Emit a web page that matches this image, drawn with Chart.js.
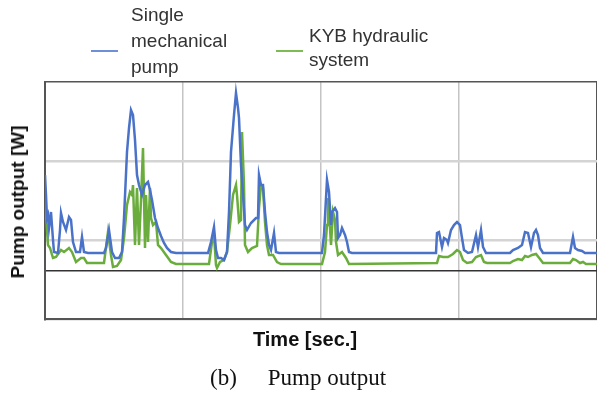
<!DOCTYPE html>
<html>
<head>
<meta charset="utf-8">
<script src="https://cdn.jsdelivr.net/npm/chart.js@4.4.1/dist/chart.umd.min.js"></script>
<style>
    body { margin: 0; background: #fff; }
    #wrap { position: relative; width: 597px; height: 394px; overflow: hidden; font-family: "Liberation Sans", Arial, sans-serif; }
    #wrap canvas { position: absolute; left: 0; top: 0; }
    .leg { position: absolute; font-size: 19px; line-height: 26px; color: #333; white-space: nowrap; }
    .swatch { position: absolute; height: 2px; width: 27px; }
    #ytitle { position: absolute; left: 18px; top: 202px; transform: translate(-50%, -50%) rotate(-90deg); font-weight: bold; font-size: 19px; color: #111; white-space: nowrap; }
    #xtitle { position: absolute; left: 305px; top: 339px; transform: translate(-50%, -50%); font-weight: bold; font-size: 20px; color: #111; white-space: nowrap; }
    #caption { position: absolute; left: 210px; top: 365px; font-family: "Liberation Serif", "Times New Roman", serif; font-size: 23px; color: #111; white-space: nowrap; }
</style>
</head>
<body>
<div id="wrap">
    <canvas id="pumpChart" width="597" height="394"></canvas>
    <div class="swatch" style="left:91px; top:50px; background:#6f8fd6;"></div>
    <div class="leg" style="left:131px; top:2px;">Single<br>mechanical<br>pump</div>
    <div class="swatch" style="left:276px; top:50px; background:#7dbb55;"></div>
    <div class="leg" style="left:309px; top:24px; line-height:24px;">KYB hydraulic<br>system</div>
    <div id="ytitle">Pump output [W]</div>
    <div id="xtitle">Time [sec.]</div>
    <div id="caption">(b)<span style="margin-left:31px;">Pump output</span></div>
</div>
<script>
// --- valores (tempo em s, potência em W acima da linha zero) ---
const nomes = ['Single mechanical pump', 'KYB hydraulic system'];

const tempoMec = [0, 1, 2, 3, 4, 6, 8, 9, 13, 15, 16, 18, 21, 24, 26, 28, 31, 35, 37, 39, 43, 59, 61, 64, 67, 70, 74, 77, 79, 82, 84, 86, 88, 90, 92, 94, 97, 100, 103, 105, 107, 110, 113, 116, 119, 122, 126, 131, 163, 166, 169, 171, 173, 176, 179, 182, 184, 186, 189, 191, 193, 194, 196, 198, 200, 202, 206, 211, 213, 214, 216, 218, 220, 222, 224, 226, 229, 231, 234, 277, 279, 282, 284, 286, 287, 290, 292, 293, 295, 297, 300, 302, 304, 307, 391, 392, 394, 397, 399, 402, 403, 406, 409, 412, 415, 417, 419, 423, 427, 431, 433, 436, 438, 441, 465, 468, 473, 477, 480, 483, 486, 489, 491, 493, 495, 498, 525, 528, 530, 533, 537, 540, 552];
const potMec = [96, 76, 53, 56, 43, 59, 31, 19, 18, 41, 58, 49, 41, 54, 51, 29, 19, 19, 34, 19, 18, 18, 23, 41, 19, 13, 13, 19, 53, 119, 143, 161, 156, 131, 96, 86, 76, 86, 89, 81, 71, 53, 43, 35, 28, 23, 19, 18, 18, 29, 44, 21, 13, 13, 11, 19, 59, 119, 156, 178, 163, 153, 106, 76, 46, 41, 48, 53, 53, 96, 86, 86, 59, 39, 26, 21, 38, 19, 18, 18, 36, 91, 79, 46, 59, 63, 59, 33, 36, 43, 36, 29, 19, 18, 18, 38, 39, 24, 33, 31, 28, 41, 46, 49, 46, 33, 21, 18, 19, 36, 24, 41, 24, 18, 18, 21, 23, 26, 39, 38, 24, 38, 41, 36, 23, 18, 18, 34, 23, 21, 20, 18, 18];

const tempoKyb = [0, 2, 3, 5, 8, 11, 16, 19, 24, 27, 31, 36, 39, 42, 59, 63, 66, 68, 72, 76, 79, 82, 85, 87, 88, 90, 92, 94, 96, 98, 100, 101, 103, 105, 106, 108, 111, 113, 116, 121, 126, 131, 164, 167, 169, 171, 172, 175, 179, 182, 185, 188, 191, 192, 194, 196, 197, 199, 200, 203, 207, 212, 214, 216, 218, 220, 222, 224, 228, 232, 236, 277, 280, 282, 283, 285, 286, 288, 290, 291, 293, 297, 301, 304, 392, 394, 398, 403, 408, 412, 415, 418, 422, 427, 431, 436, 439, 442, 465, 468, 473, 477, 480, 483, 487, 491, 495, 498, 525, 528, 531, 535, 538, 541, 552];
const potKyb = [73, 41, 26, 23, 13, 14, 21, 19, 23, 19, 9, 13, 13, 8, 8, 39, 16, 4, 5, 11, 33, 66, 79, 76, 86, 26, 83, 26, 71, 123, 23, 76, 29, 83, 53, 46, 49, 26, 23, 16, 9, 7, 7, 29, 36, 6, 3, 9, 11, 19, 46, 76, 86, 76, 49, 51, 139, 86, 26, 19, 23, 25, 63, 86, 83, 49, 26, 16, 16, 9, 7, 7, 19, 46, 73, 43, 26, 59, 51, 29, 16, 19, 13, 7, 8, 15, 14, 14, 17, 21, 19, 11, 8, 9, 14, 16, 9, 8, 8, 10, 12, 11, 15, 14, 16, 17, 12, 8, 8, 12, 11, 8, 9, 7, 7];

// eixo: limites e linhas de grade
const eixoX = [0, 138, 276, 414, 552];
const eixoY = [-48, 0, 31, 110, 189];

const pontos = (t, v) => t.map((x, i) => ({ x: x, y: v[i] }));

const ctx = document.getElementById('pumpChart').getContext('2d');

new Chart(ctx, {
    type: 'line',
    data: {
        datasets: [{
            label: nomes[0],
            data: pontos(tempoMec, potMec),
            borderColor: '#4a72c8',
            borderWidth: 2.5,
            pointRadius: 0,
            tension: 0
        }, {
            label: nomes[1],
            data: pontos(tempoKyb, potKyb),
            borderColor: '#6aad3c',
            borderWidth: 2.5,
            pointRadius: 0,
            tension: 0
        }]
    },
    options: {
        responsive: false,
        animation: false,
        layout: { padding: { left: 45, top: 82, right: 0, bottom: 75 } },
        plugins: {
            legend: { display: false },
            tooltip: { enabled: false }
        },
        scales: {
            x: {
                type: 'linear',
                min: eixoX[0],
                max: eixoX[eixoX.length - 1],
                afterBuildTicks: (s) => { s.ticks = eixoX.map(v => ({ value: v })); },
                ticks: { display: false },
                grid: {
                    drawTicks: false,
                    lineWidth: 1.5,
                    color: (c) => c.tick && c.tick.value === eixoX[eixoX.length - 1] ? '#555' : '#c4c4c4'
                },
                border: { color: '#555', width: 2 }
            },
            y: {
                min: eixoY[0],
                max: eixoY[eixoY.length - 1],
                afterBuildTicks: (s) => { s.ticks = eixoY.map(v => ({ value: v })); },
                ticks: { display: false },
                grid: {
                    drawTicks: false,
                    lineWidth: (c) => c.tick && (c.tick.value === 0 || c.tick.value === eixoY[eixoY.length - 1]) ? 1.5 : 2.5,
                    color: (c) => {
                        if (!c.tick) return '#d4d4d4';
                        if (c.tick.value === 0) return '#333';
                        if (c.tick.value === eixoY[eixoY.length - 1]) return '#555';
                        return '#d4d4d4';
                    }
                },
                border: { color: '#555', width: 2 }
            }
        }
    }
});
</script>
</body>
</html>
